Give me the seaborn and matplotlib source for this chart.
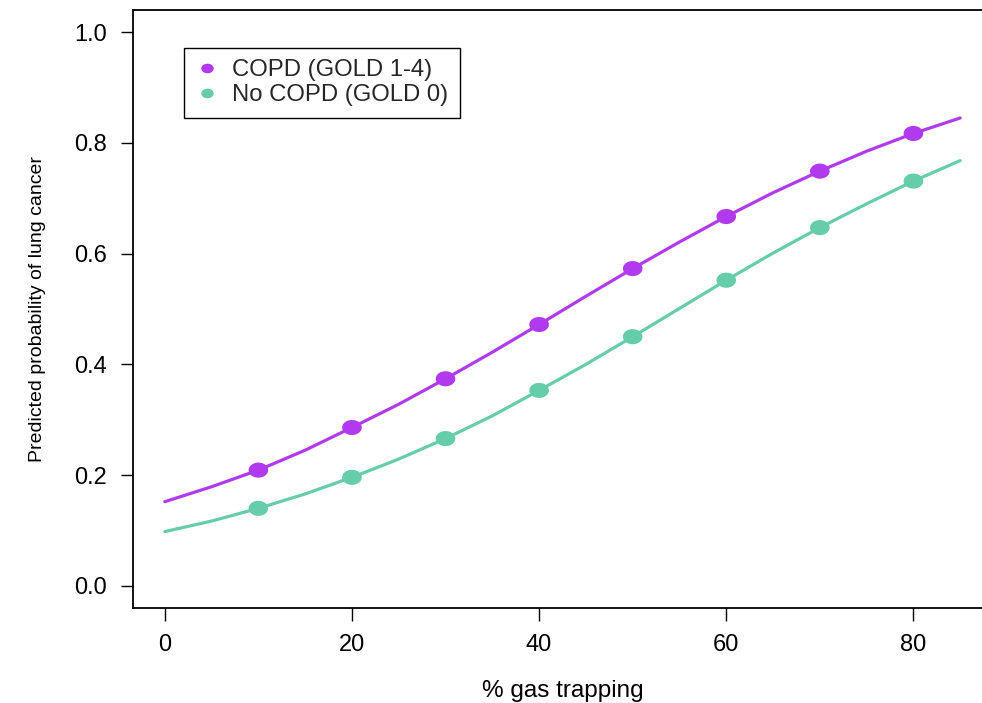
import numpy as np
import pandas as pd
import seaborn as sns
import matplotlib
matplotlib.use("Agg")
import matplotlib.pyplot as plt
from matplotlib.path import Path
from matplotlib.lines import Line2D

# Predicted probability of lung cancer by % gas trapping
gas_trapping = [0, 5, 10, 15, 20, 25, 30, 35, 40, 45, 50, 55, 60, 65, 70, 75, 80, 85]
prob_copd = [0.152, 0.179, 0.209, 0.245, 0.286, 0.328, 0.374, 0.422, 0.472, 0.523,
             0.573, 0.621, 0.667, 0.710, 0.749, 0.785, 0.817, 0.845]
prob_no_copd = [0.098, 0.117, 0.140, 0.166, 0.196, 0.229, 0.266, 0.307, 0.353, 0.400,
                0.450, 0.501, 0.552, 0.601, 0.647, 0.690, 0.731, 0.768]
marker_x = [10, 20, 30, 40, 50, 60, 70, 80]

group_labels = ["COPD (GOLD 1-4)", "No COPD (GOLD 0)"]
group_colors = ["#B23AEE", "#66CDAA"]
x_ticks = [0, 20, 40, 60, 80]
y_ticks = [0.0, 0.2, 0.4, 0.6, 0.8, 1.0]

df = pd.DataFrame({
    "gas": gas_trapping * 2,
    "prob": prob_copd + prob_no_copd,
    "group": [group_labels[0]] * len(gas_trapping) + [group_labels[1]] * len(gas_trapping),
})
pts = df[df["gas"].isin(marker_x)]

sns.set_theme(style="white")
plt.rcParams["font.family"] = ["Liberation Sans", "DejaVu Sans"]

W, H = 982, 703
fig = plt.figure(figsize=(W / 100, H / 100), dpi=100)
ax = fig.add_axes([133 / W, 95 / H, 859 / W, 598 / H])
palette = dict(zip(group_labels, group_colors))

sns.lineplot(data=df, x="gas", y="prob", hue="group", palette=palette,
             linewidth=2.3, legend=False, ax=ax, estimator=None, sort=True)

# slightly wide oval markers
t = np.linspace(0, 2 * np.pi, 40)
oval = Path(np.column_stack([1.3 * np.cos(t), np.sin(t)]))
sns.scatterplot(data=pts, x="gas", y="prob", hue="group", palette=palette,
                marker=oval, s=200, linewidth=0, legend=False, ax=ax, zorder=3)

ax.set_xlim(-3.4, 88.4)
ax.set_ylim(-0.04, 1.04)
ax.set_xticks(x_ticks)
ax.set_xticklabels([str(v) for v in x_ticks])
ax.set_yticks(y_ticks)
ax.set_yticklabels([f"{v:.1f}" for v in y_ticks])
ax.tick_params(axis="both", direction="out", length=9, width=1.0, color="black",
               labelsize=17, pad=10, left=True, bottom=True, labelcolor="black")

for side in ["left", "right", "top", "bottom"]:
    ax.spines[side].set_visible(True)
    ax.spines[side].set_color("black")
    ax.spines[side].set_linewidth(1.3)

ax.set_xlabel("% gas trapping", fontsize=17.5, color="black")
ax.xaxis.set_label_coords(0.5, (608 - 691) / 598)
ax.xaxis.label.set_va("center")
ax.set_ylabel("Predicted probability of lung cancer", fontsize=14, color="black")
ax.yaxis.set_label_coords((38 - 133) / 859, 0.5)
ax.yaxis.label.set_va("center")

handles = [Line2D([], [], linestyle="none", marker=oval, markersize=9,
                  markerfacecolor=c, markeredgewidth=0) for c in group_colors]
leg = ax.legend(handles, group_labels, loc="upper left",
                bbox_to_anchor=(184 / W, 1 - 48 / H), bbox_transform=fig.transFigure,
                frameon=True, fancybox=False, shadow=False, fontsize=17.2,
                handlelength=1.0, handletextpad=0.55, labelspacing=0.12,
                borderpad=0.48, borderaxespad=0)
leg.get_frame().set_edgecolor("black")
leg.get_frame().set_linewidth(1.0)
leg.get_frame().set_alpha(1)

fig.savefig("out.png", dpi=100)
